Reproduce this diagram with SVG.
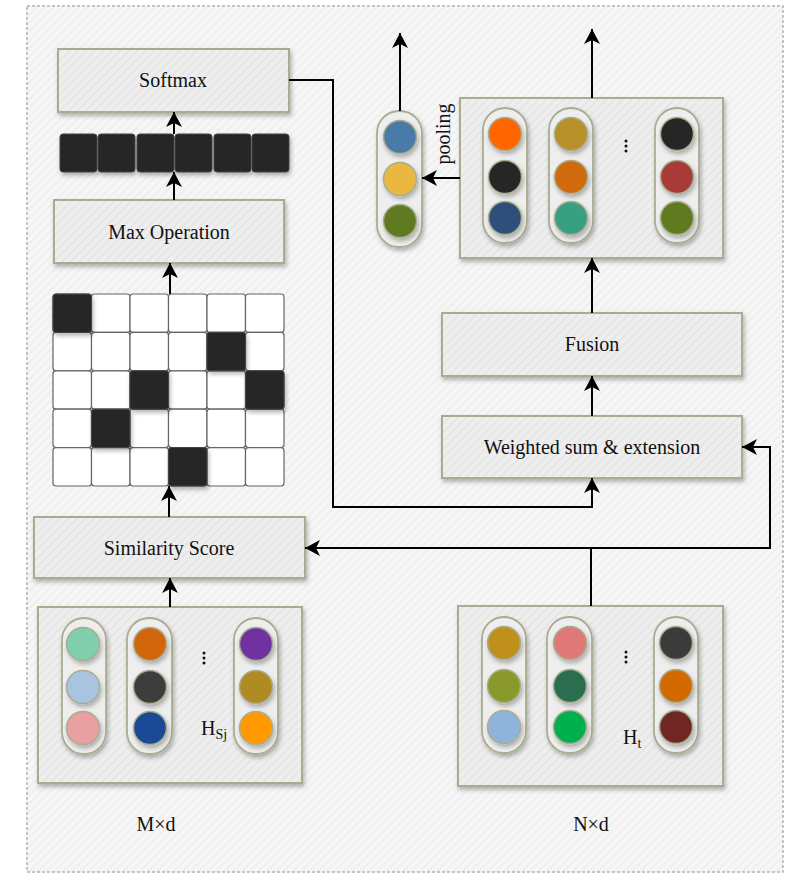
<svg xmlns="http://www.w3.org/2000/svg" width="787" height="873" viewBox="0 0 787 873">
<defs>
<pattern id="hatch" width="6" height="6" patternUnits="userSpaceOnUse" patternTransform="rotate(-45)">
<rect width="6" height="6" fill="#f6f6f6"/>
<rect width="6" height="2" fill="#efefef"/>
</pattern>
<pattern id="hatchBox" width="6" height="6" patternUnits="userSpaceOnUse" patternTransform="rotate(-45)">
<rect width="6" height="6" fill="#eeeeee"/>
<rect width="6" height="2" fill="#e6e6e6"/>
</pattern>
<filter id="sh" x="-20%" y="-20%" width="140%" height="140%">
<feDropShadow dx="1.5" dy="3" stdDeviation="2" flood-color="#000" flood-opacity="0.28"/>
</filter>
<marker id="ah" viewBox="0 0 15 16" markerWidth="15" markerHeight="16" refX="15" refY="8" orient="auto" markerUnits="userSpaceOnUse">
<path d="M0,0 L15,8 L0,16 L4,8 z" fill="#000"/>
</marker>
<style>
.box{fill:url(#hatchBox);stroke:#a9ad8e;stroke-width:2;filter:url(#sh)}
.pill{fill:#eeeeee;stroke:#a9ad8e;stroke-width:1.8;filter:url(#sh)}
.dot{stroke:#a9ad8e;stroke-width:1.5;filter:url(#sh)}
.wc{fill:#ffffff;stroke:#666;stroke-width:1.2}
.bc{fill:#262626;stroke:#444;stroke-width:1;filter:url(#sh)}
.lbl{font-family:"Liberation Serif","DejaVu Serif",serif;font-size:20px;fill:#111;text-anchor:middle}
.con{fill:none;stroke:#000;stroke-width:2}
</style>
</defs>
<rect x="27" y="6" width="756" height="866" fill="url(#hatch)" stroke="#b4b8a0" stroke-width="1.5" stroke-dasharray="3,2"/>

<g id="softmax"><rect class="box" x="58" y="49" width="231" height="63"/><text class="lbl" x="173" y="87">Softmax</text></g>

<g id="vector">
<rect class="bc" x="60" y="134" width="37" height="38" rx="3"/>
<rect class="bc" x="98" y="134" width="37" height="38" rx="3"/>
<rect class="bc" x="137" y="134" width="37" height="38" rx="3"/>
<rect class="bc" x="175" y="134" width="37" height="38" rx="3"/>
<rect class="bc" x="214" y="134" width="37" height="38" rx="3"/>
<rect class="bc" x="252" y="134" width="37" height="38" rx="3"/>
</g>

<g id="maxop"><rect class="box" x="54" y="200" width="230" height="63"/><text class="lbl" x="169" y="239">Max Operation</text></g>

<g id="matrix">
<rect class="wc" x="53" y="294" width="38.5" height="38.4" rx="3"/><rect class="wc" x="91.5" y="294" width="38.5" height="38.4" rx="3"/><rect class="wc" x="130" y="294" width="38.5" height="38.4" rx="3"/><rect class="wc" x="168.5" y="294" width="38.5" height="38.4" rx="3"/><rect class="wc" x="207" y="294" width="38.5" height="38.4" rx="3"/><rect class="wc" x="245.5" y="294" width="38.5" height="38.4" rx="3"/>
<rect class="wc" x="53" y="332.4" width="38.5" height="38.4" rx="3"/><rect class="wc" x="91.5" y="332.4" width="38.5" height="38.4" rx="3"/><rect class="wc" x="130" y="332.4" width="38.5" height="38.4" rx="3"/><rect class="wc" x="168.5" y="332.4" width="38.5" height="38.4" rx="3"/><rect class="wc" x="207" y="332.4" width="38.5" height="38.4" rx="3"/><rect class="wc" x="245.5" y="332.4" width="38.5" height="38.4" rx="3"/>
<rect class="wc" x="53" y="370.8" width="38.5" height="38.4" rx="3"/><rect class="wc" x="91.5" y="370.8" width="38.5" height="38.4" rx="3"/><rect class="wc" x="130" y="370.8" width="38.5" height="38.4" rx="3"/><rect class="wc" x="168.5" y="370.8" width="38.5" height="38.4" rx="3"/><rect class="wc" x="207" y="370.8" width="38.5" height="38.4" rx="3"/><rect class="wc" x="245.5" y="370.8" width="38.5" height="38.4" rx="3"/>
<rect class="wc" x="53" y="409.2" width="38.5" height="38.4" rx="3"/><rect class="wc" x="91.5" y="409.2" width="38.5" height="38.4" rx="3"/><rect class="wc" x="130" y="409.2" width="38.5" height="38.4" rx="3"/><rect class="wc" x="168.5" y="409.2" width="38.5" height="38.4" rx="3"/><rect class="wc" x="207" y="409.2" width="38.5" height="38.4" rx="3"/><rect class="wc" x="245.5" y="409.2" width="38.5" height="38.4" rx="3"/>
<rect class="wc" x="53" y="447.6" width="38.5" height="38.4" rx="3"/><rect class="wc" x="91.5" y="447.6" width="38.5" height="38.4" rx="3"/><rect class="wc" x="130" y="447.6" width="38.5" height="38.4" rx="3"/><rect class="wc" x="168.5" y="447.6" width="38.5" height="38.4" rx="3"/><rect class="wc" x="207" y="447.6" width="38.5" height="38.4" rx="3"/><rect class="wc" x="245.5" y="447.6" width="38.5" height="38.4" rx="3"/>
<rect class="bc" x="53" y="294" width="38.5" height="38.4" rx="3"/>
<rect class="bc" x="207" y="332.4" width="38.5" height="38.4" rx="3"/>
<rect class="bc" x="130" y="370.8" width="38.5" height="38.4" rx="3"/>
<rect class="bc" x="245.5" y="370.8" width="38.5" height="38.4" rx="3"/>
<rect class="bc" x="91.5" y="409.2" width="38.5" height="38.4" rx="3"/>
<rect class="bc" x="168.5" y="447.6" width="38.5" height="38.4" rx="3"/>
</g>

<g id="simscore"><rect class="box" x="34" y="517" width="271" height="61"/><text class="lbl" x="169" y="555">Similarity Score</text></g>

<g id="hsj">
<rect class="box" x="38" y="607" width="264" height="176"/>
<rect class="pill" x="62" y="618" width="44" height="136" rx="22"/>
<rect class="pill" x="127" y="618" width="45" height="136" rx="22"/>
<rect class="pill" x="234" y="618" width="44" height="136" rx="22"/>
<circle class="dot" cx="83" cy="644" r="16.5" fill="#7fcfae"/>
<circle class="dot" cx="83" cy="687" r="16.5" fill="#a9c4e0"/>
<circle class="dot" cx="83" cy="728" r="16.5" fill="#e8a0a0"/>
<circle class="dot" cx="150" cy="644" r="16.5" fill="#d2660a"/>
<circle class="dot" cx="150" cy="687" r="16.5" fill="#3d3d3d"/>
<circle class="dot" cx="150" cy="728" r="16.5" fill="#1a4a96"/>
<circle class="dot" cx="256" cy="644" r="16.5" fill="#7030a0"/>
<circle class="dot" cx="256" cy="687" r="16.5" fill="#b08a20"/>
<circle class="dot" cx="256" cy="728" r="16.5" fill="#ff9900"/>
<circle cx="204" cy="653" r="1.5" fill="#111"/><circle cx="204" cy="658" r="1.5" fill="#111"/><circle cx="204" cy="663" r="1.5" fill="#111"/>
<text class="lbl" x="201" y="735" style="text-anchor:start">H<tspan font-size="14" dy="4">Sj</tspan></text>
</g>
<text class="lbl" x="156" y="831">M×d</text>

<g id="ht">
<rect class="box" x="458" y="606" width="265" height="180"/>
<rect class="pill" x="482" y="617" width="44" height="136" rx="22"/>
<rect class="pill" x="547" y="617" width="45" height="136" rx="22"/>
<rect class="pill" x="654" y="617" width="44" height="136" rx="22"/>
<circle class="dot" cx="504" cy="643" r="16.5" fill="#c0901e"/>
<circle class="dot" cx="504" cy="686" r="16.5" fill="#8a9a2a"/>
<circle class="dot" cx="504" cy="727" r="16.5" fill="#8fb4dc"/>
<circle class="dot" cx="570" cy="643" r="16.5" fill="#e07878"/>
<circle class="dot" cx="570" cy="686" r="16.5" fill="#2a6e50"/>
<circle class="dot" cx="570" cy="727" r="16.5" fill="#00b050"/>
<circle class="dot" cx="676" cy="643" r="16.5" fill="#3a3a3a"/>
<circle class="dot" cx="676" cy="686" r="16.5" fill="#d26a00"/>
<circle class="dot" cx="676" cy="727" r="16.5" fill="#702820"/>
<circle cx="626" cy="652" r="1.5" fill="#111"/><circle cx="626" cy="657" r="1.5" fill="#111"/><circle cx="626" cy="662" r="1.5" fill="#111"/>
<text class="lbl" x="623" y="744" style="text-anchor:start">H<tspan font-size="14" dy="4">t</tspan></text>
</g>
<text class="lbl" x="591" y="831">N×d</text>

<g id="weighted"><rect class="box" x="442" y="416" width="300" height="62"/><text class="lbl" x="592" y="454">Weighted sum &amp; extension</text></g>
<g id="fusion"><rect class="box" x="442" y="313" width="300" height="63"/><text class="lbl" x="592" y="351">Fusion</text></g>

<g id="features">
<rect class="box" x="460" y="98" width="263" height="160"/>
<rect class="pill" x="483" y="108" width="44" height="135" rx="22"/>
<rect class="pill" x="549" y="108" width="44" height="135" rx="22"/>
<rect class="pill" x="655" y="108" width="44" height="135" rx="22"/>
<circle class="dot" cx="505" cy="134" r="16.5" fill="#ff6600"/>
<circle class="dot" cx="505" cy="177" r="16.5" fill="#262626"/>
<circle class="dot" cx="505" cy="218" r="16.5" fill="#2f5079"/>
<circle class="dot" cx="571" cy="134" r="16.5" fill="#b8902a"/>
<circle class="dot" cx="571" cy="177" r="16.5" fill="#d06a08"/>
<circle class="dot" cx="571" cy="218" r="16.5" fill="#38a080"/>
<circle class="dot" cx="677" cy="134" r="16.5" fill="#262626"/>
<circle class="dot" cx="677" cy="177" r="16.5" fill="#a83a38"/>
<circle class="dot" cx="677" cy="218" r="16.5" fill="#607a20"/>
<circle cx="626" cy="141" r="1.5" fill="#111"/><circle cx="626" cy="146" r="1.5" fill="#111"/><circle cx="626" cy="151" r="1.5" fill="#111"/>
</g>

<g id="pooled">
<rect class="pill" x="377" y="111" width="45" height="136" rx="22"/>
<circle class="dot" cx="400" cy="137" r="16.5" fill="#4a7aa8"/>
<circle class="dot" cx="400" cy="179" r="16.5" fill="#e8b840"/>
<circle class="dot" cx="400" cy="221" r="16.5" fill="#607a20"/>
</g>
<text class="lbl" transform="translate(450,134) rotate(-90)">pooling</text>

<g id="connectors">
<path class="con" d="M174,134 V112" marker-end="url(#ah)"/>
<path class="con" d="M174,200 V172" marker-end="url(#ah)"/>
<path class="con" d="M170,294 V263" marker-end="url(#ah)"/>
<path class="con" d="M169,517 V486" marker-end="url(#ah)"/>
<path class="con" d="M170,607 V578" marker-end="url(#ah)"/>
<path class="con" d="M289,80 H333 V507 H592 V478" marker-end="url(#ah)"/>
<path class="con" d="M591,606 V548 H305" marker-end="url(#ah)"/>
<path class="con" d="M591,548 H770 V447 H742" marker-end="url(#ah)"/>
<path class="con" d="M592,416 V376" marker-end="url(#ah)"/>
<path class="con" d="M592,313 V258" marker-end="url(#ah)"/>
<path class="con" d="M592,98 V29" marker-end="url(#ah)"/>
<path class="con" d="M460,178 H422" marker-end="url(#ah)"/>
<path class="con" d="M400,111 V33" marker-end="url(#ah)"/>
</g>
</svg>
